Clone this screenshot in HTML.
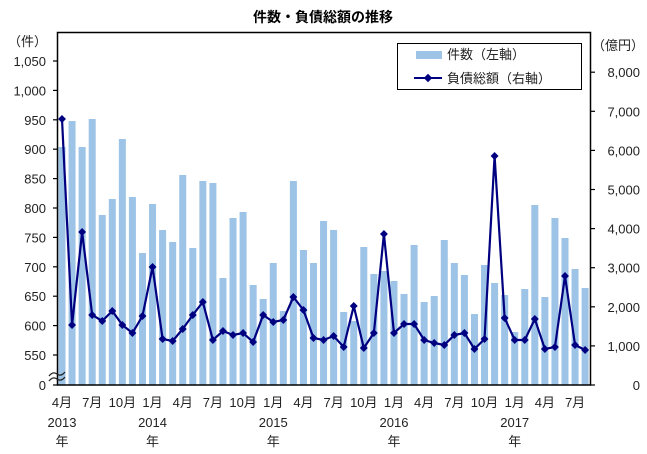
<!DOCTYPE html>
<html><head><meta charset="utf-8"><style>
html,body{margin:0;padding:0;background:#fff}
svg{display:block;font-family:"Liberation Sans","Noto Sans CJK JP",sans-serif}
</style></head><body>
<svg id="c" width="647" height="454" viewBox="0 0 647 454" xmlns="http://www.w3.org/2000/svg">
<text x="323" y="22" text-anchor="middle" font-size="14" font-weight="bold" fill="#000">件数・負債総額の推移</text>
<g id="bars" fill="#9DC3E6"></g>
<rect x="57.5" y="32.5" width="533" height="352.5" fill="none" stroke="#000" stroke-width="1.5"/>
<g id="ticks" stroke="#000" stroke-width="1.2"></g>
<g id="lbl" font-size="13" fill="#222"></g>
<polyline id="ln" fill="none" stroke="#000080" stroke-width="2.2"/>
<g id="mk" fill="#000080"></g>
<path d="M49 376 q4 -5 8 -2 t8 -2 M49 381 q4 -5 8 -2 t8 -2" stroke="#222" stroke-width="1.3" fill="none"/>
<rect x="397.5" y="43.5" width="184" height="46" fill="#fff" stroke="#000"/>
<rect x="416" y="51" width="26" height="8" fill="#9DC3E6"/>
<text x="447" y="59" font-size="13" fill="#222">件数（左軸）</text>
<line x1="414" y1="78" x2="442" y2="78" stroke="#000080" stroke-width="2"/>
<rect x="425" y="75" width="6" height="6" fill="#000080" transform="rotate(45 428 78)"/>
<text x="447" y="83" font-size="13" fill="#222">負債総額（右軸）</text>
</svg>
<script>
var bars=[147,121,147,119,215,199,139,197,253,204,230,242,175,248,181,183,278,218,212,285,299,263,311,181,250,263,221,230,312,321,247,274,271,281,294,245,302,296,240,263,275,314,265,283,295,332,289,205,297,218,238,269,288];
var ln=[119,325,232,315,321,311,325,333,316,267,339,341,329,315,302,340,331,335,333,342,315,322,320,297,310,338,340,336,347,306,348,333,234,333,324,324,340,343,345,335,333,349,339,156,318,340,340,319,349,347,276,345,350];
var NS="http://www.w3.org/2000/svg";
function el(p,t,a,tx){var e=document.createElementNS(NS,t);for(var k in a)e.setAttribute(k,a[k]);if(tx)e.textContent=tx;document.getElementById(p).appendChild(e);}
var pts=[];
for(var i=0;i<53;i++){var x=58.5+i*10.06;el("bars","rect",{x:x,y:bars[i],width:7,height:385-bars[i]});
var cx=x+3.5;pts.push(cx+","+ln[i]);
el("mk","rect",{x:cx-2.8,y:ln[i]-2.8,width:5.6,height:5.6,transform:"rotate(45 "+cx+" "+ln[i]+")"});}
document.getElementById("ln").setAttribute("points",pts.join(" "));
var L=["1,050","1,000","950","900","850","800","750","700","650","600","550"];
for(var j=0;j<L.length;j++){var y=61+j*29.4;el("ticks","line",{x1:53,x2:57.5,y1:y,y2:y});el("lbl","text",{x:46,y:y+5,"text-anchor":"end"},L[j]);}
el("ticks","line",{x1:53,x2:57.5,y1:385,y2:385});el("lbl","text",{x:46,y:390,"text-anchor":"end"},"0");
el("lbl","text",{x:47,y:46,"text-anchor":"end"},"（件）");
for(var k=0;k<=8;k++){var y2=385-k*39.1;el("ticks","line",{x1:590.5,x2:595,y1:y2,y2:y2});el("lbl","text",{x:640,y:y2+5,"text-anchor":"end"},k==0?"0":k+",000");}
el("lbl","text",{x:592,y:50},"（億円）");
var M=["4月","7月","10月","1月"];
for(var m=0;m<53;m+=3){var cx2=58.5+m*10.06+3.5;el("lbl","text",{x:cx2,y:407,"text-anchor":"middle"},M[(m/3)%4]);}
var Y=[[0,"2013"],[9,"2014"],[21,"2015"],[33,"2016"],[45,"2017"]];
for(var q=0;q<Y.length;q++){var cx3=58.5+Y[q][0]*10.06+3.5;el("lbl","text",{x:cx3,y:427,"text-anchor":"middle"},Y[q][1]);el("lbl","text",{x:cx3,y:446,"text-anchor":"middle"},"年");}
</script>
</body></html>
